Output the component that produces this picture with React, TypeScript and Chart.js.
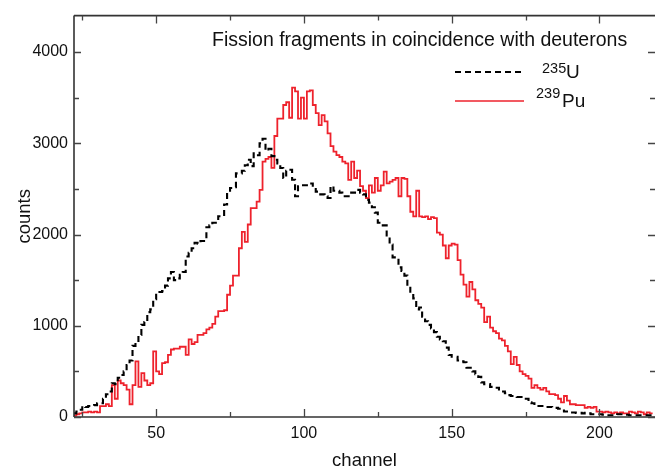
import React, { useEffect, useRef } from 'react';
import { Chart, registerables } from 'chart.js';

Chart.register(...registerables);

// Histogram channels start here (one bin per channel)
const firstChannel = 22;

// 235U (dashed black) counts per channel, channels 22..218
const u235Counts = [
  40, 40, 60, 80, 120, 110, 120, 120, 130, 150,
  150, 200, 250, 280, 370, 360, 430, 460, 500, 570,
  620, 780, 820, 900, 1010, 1040, 1150, 1180, 1290, 1370,
  1370, 1380, 1440, 1520, 1590, 1500, 1520, 1560, 1590, 1760,
  1800, 1850, 1910, 1900, 1930, 1930, 2080, 2100, 2130, 2130,
  2200, 2200, 2330, 2460, 2510, 2520, 2670, 2670, 2700, 2760,
  2820, 2750, 2890, 2870, 3000, 3050, 2920, 2940, 2860, 2820,
  2780, 2730, 2620, 2700, 2710, 2600, 2420, 2530, 2540, 2540,
  2560, 2560, 2500, 2470, 2440, 2440, 2420, 2400, 2530, 2480,
  2480, 2460, 2420, 2420, 2420, 2460, 2460, 2490, 2460, 2440,
  2380, 2350, 2300, 2240, 2130, 2100, 2100, 1990, 1890, 1750,
  1750, 1640, 1600, 1550, 1430, 1350, 1300, 1180, 1200, 1100,
  1050, 1010, 970, 930, 880, 850, 830, 760, 680, 660,
  660, 620, 610, 600, 540, 540, 500, 470, 440, 380,
  360, 360, 330, 320, 320, 280, 280, 260, 240, 230,
  230, 220, 220, 200, 200, 160, 150, 130, 120, 120,
  120, 110, 110, 100, 100, 90, 70, 60, 60, 50,
  50, 45, 45, 40, 45, 40, 30, 30, 30, 30,
  25, 20, 20, 20, 20, 30, 30, 30, 25, 20,
  20, 20, 20, 20, 20, 20, 20,
];

// 239Pu (solid red) counts per channel, channels 22..218
const pu239Counts = [
  40, 15, 30, 40, 50, 50, 60, 50, 60, 50,
  120, 120, 140, 120, 350, 200, 400, 370, 350, 300,
  140, 350, 610, 330, 480, 400, 350, 370, 720, 500,
  470, 590, 600, 680, 740, 750, 750, 770, 770, 680,
  850, 800, 820, 900, 900, 920, 960, 980, 1020, 1100,
  1160, 1160, 1170, 1340, 1440, 1550, 1550, 1850, 2030, 1920,
  2110, 2290, 2290, 2360, 2490, 2800, 2830, 2850, 2730, 3080,
  3270, 3270, 3420, 3450, 3280, 3610, 3570, 3270, 3500, 3270,
  3570, 3580, 3420, 3330, 3200, 3310, 3240, 3110, 2970, 2910,
  2870, 2850, 2800, 2780, 2600, 2800, 2620, 2700, 2530, 2480,
  2400, 2540, 2460, 2620, 2480, 2540, 2690, 2560, 2580, 2600,
  2620, 2420, 2620, 2610, 2420, 2250, 2200, 2480, 2200, 2190,
  2200, 2170, 2190, 2180, 2020, 2000, 1880, 1740, 1880, 1900,
  1890, 1720, 1560, 1450, 1320, 1480, 1400, 1280, 1240, 1200,
  1040, 1100, 980, 940, 920, 860, 840, 780, 720, 580,
  660, 570, 500, 470, 450, 420, 320, 350, 320, 300,
  320, 280, 250, 250, 240, 200, 160, 230, 180, 140,
  140, 130, 130, 130, 100, 110, 100, 110, 60, 60,
  50, 60, 50, 40, 50, 40, 50, 40, 40, 60,
  50, 40, 60, 50, 30, 50, 40,
];

const xMajorTicks = [50, 100, 150, 200];
const xMinorTicks = [25, 75, 125, 175];
const yMajorTicks = [0, 1000, 2000, 3000, 4000];
const yMinorTicks = [500, 1500, 2500, 3500];

const xRange = [22.2, 218.8];
const yRange = [0, 4400];

const titleText = 'Fission fragments in coincidence with deuterons';
const xTitle = 'channel';
const yTitle = 'counts';
const legendMasses = ['235', '239'];
const legendSymbols = ['U', 'Pu'];

const FONT = '"Liberation Sans", Arial, Helvetica, sans-serif';
const RED = 'rgb(238,34,44)';

export default function App() {
  const ref = useRef<HTMLCanvasElement>(null);

  useEffect(() => {
    if (!ref.current) return;
    const toPts = (arr: number[]) => arr.map((v, i) => ({ x: firstChannel + i, y: v }));

    const framePlugin = {
      id: 'frameTicks',
      afterDraw(chart: any) {
        const ctx = chart.ctx;
        const { left, right, top, bottom } = chart.chartArea;
        const xs = chart.scales.x;
        const ys = chart.scales.y;
        ctx.save();
        ctx.strokeStyle = '#333';
        ctx.lineWidth = 1.6;
        // frame (left, top, bottom)
        ctx.beginPath();
        ctx.moveTo(left, top);
        ctx.lineTo(right, top);
        ctx.moveTo(left, top);
        ctx.lineTo(left, bottom);
        ctx.moveTo(left, bottom);
        ctx.lineTo(right, bottom);
        ctx.stroke();
        // ticks
        ctx.lineWidth = 1.3;
        ctx.strokeStyle = '#444';
        ctx.beginPath();
        const xt = (vals: number[], len: number) => {
          vals.forEach((v) => {
            const px = Math.round(xs.getPixelForValue(v)) + 0.5;
            ctx.moveTo(px, bottom);
            ctx.lineTo(px, bottom - len);
            ctx.moveTo(px, top);
            ctx.lineTo(px, top + len);
          });
        };
        const yt = (vals: number[], len: number) => {
          vals.forEach((v) => {
            const py = Math.round(ys.getPixelForValue(v)) + 0.5;
            ctx.moveTo(left, py);
            ctx.lineTo(left + len, py);
            ctx.moveTo(right, py);
            ctx.lineTo(right - len, py);
          });
        };
        xt(xMajorTicks, 8);
        xt(xMinorTicks, 5);
        yt(yMajorTicks, 7);
        yt(yMinorTicks, 5);
        ctx.stroke();

        // title inside plot
        ctx.fillStyle = '#111';
        ctx.textBaseline = 'alphabetic';
        ctx.textAlign = 'left';
        ctx.font = `19.5px ${FONT}`;
        ctx.fillText(titleText, 212, 46);

        // legend
        ctx.lineWidth = 2;
        ctx.strokeStyle = '#000';
        ctx.setLineDash([6, 4]);
        ctx.beginPath();
        ctx.moveTo(455, 72);
        ctx.lineTo(524, 72);
        ctx.stroke();
        ctx.setLineDash([]);
        ctx.strokeStyle = RED;
        ctx.lineWidth = 1.7;
        ctx.beginPath();
        ctx.moveTo(455, 101);
        ctx.lineTo(524, 101);
        ctx.stroke();

        ctx.font = `14.5px ${FONT}`;
        ctx.fillText(legendMasses[0], 542, 73);
        ctx.fillText(legendMasses[1], 536, 98);
        ctx.font = `19px ${FONT}`;
        ctx.fillText(legendSymbols[0], 566, 78);
        ctx.fillText(legendSymbols[1], 562, 107);
        ctx.restore();
      },
    };

    const chart = new Chart(ref.current, {
      type: 'line',
      data: {
        datasets: [
          {
            label: '235U',
            data: toPts(u235Counts),
            borderColor: '#000',
            borderWidth: 2.1,
            borderDash: [6, 4],
            stepped: 'after',
            pointRadius: 0,
            fill: false,
          },
          {
            label: '239Pu',
            data: toPts(pu239Counts),
            borderColor: RED,
            borderWidth: 1.8,
            stepped: 'after',
            pointRadius: 0,
            fill: false,
          },
        ],
      },
      options: {
        animation: false,
        responsive: false,
        maintainAspectRatio: false,
        layout: { padding: { top: 12, right: 0, left: 0, bottom: 0 } },
        plugins: { legend: { display: false }, tooltip: { enabled: false } },
        scales: {
          x: {
            type: 'linear',
            min: xRange[0],
            max: xRange[1],
            afterBuildTicks: (s: any) => {
              s.ticks = xMajorTicks.map((v) => ({ value: v }));
            },
            afterFit: (s: any) => {
              s.height = 55;
            },
            grid: { display: false, drawTicks: false },
            border: { display: false },
            ticks: { padding: 7, color: '#111', font: { family: FONT, size: 16 }, callback: (v: any) => String(v) },
            title: { display: true, text: xTitle, color: '#111', padding: 0, font: { family: FONT, size: 18.5 } },
          },
          y: {
            type: 'linear',
            min: yRange[0],
            max: yRange[1],
            afterBuildTicks: (s: any) => {
              s.ticks = yMajorTicks.map((v) => ({ value: v }));
            },
            afterFit: (s: any) => {
              s.width = 74;
            },
            grid: { display: false, drawTicks: false },
            border: { display: false },
            ticks: { padding: 6, color: '#111', font: { family: FONT, size: 16 }, callback: (v: any) => String(v) },
            title: { display: true, text: yTitle, color: '#111', padding: { top: 14, bottom: 0 }, font: { family: FONT, size: 18.5 } },
          },
        },
      },
      plugins: [framePlugin],
    } as any);
    return () => chart.destroy();
  }, []);

  return (
    <div style={{ position: 'absolute', left: 0, top: 0, width: 655, height: 472, background: '#fff' }}>
      <canvas ref={ref} width={655} height={472} style={{ display: 'block' }} />
    </div>
  );
}
